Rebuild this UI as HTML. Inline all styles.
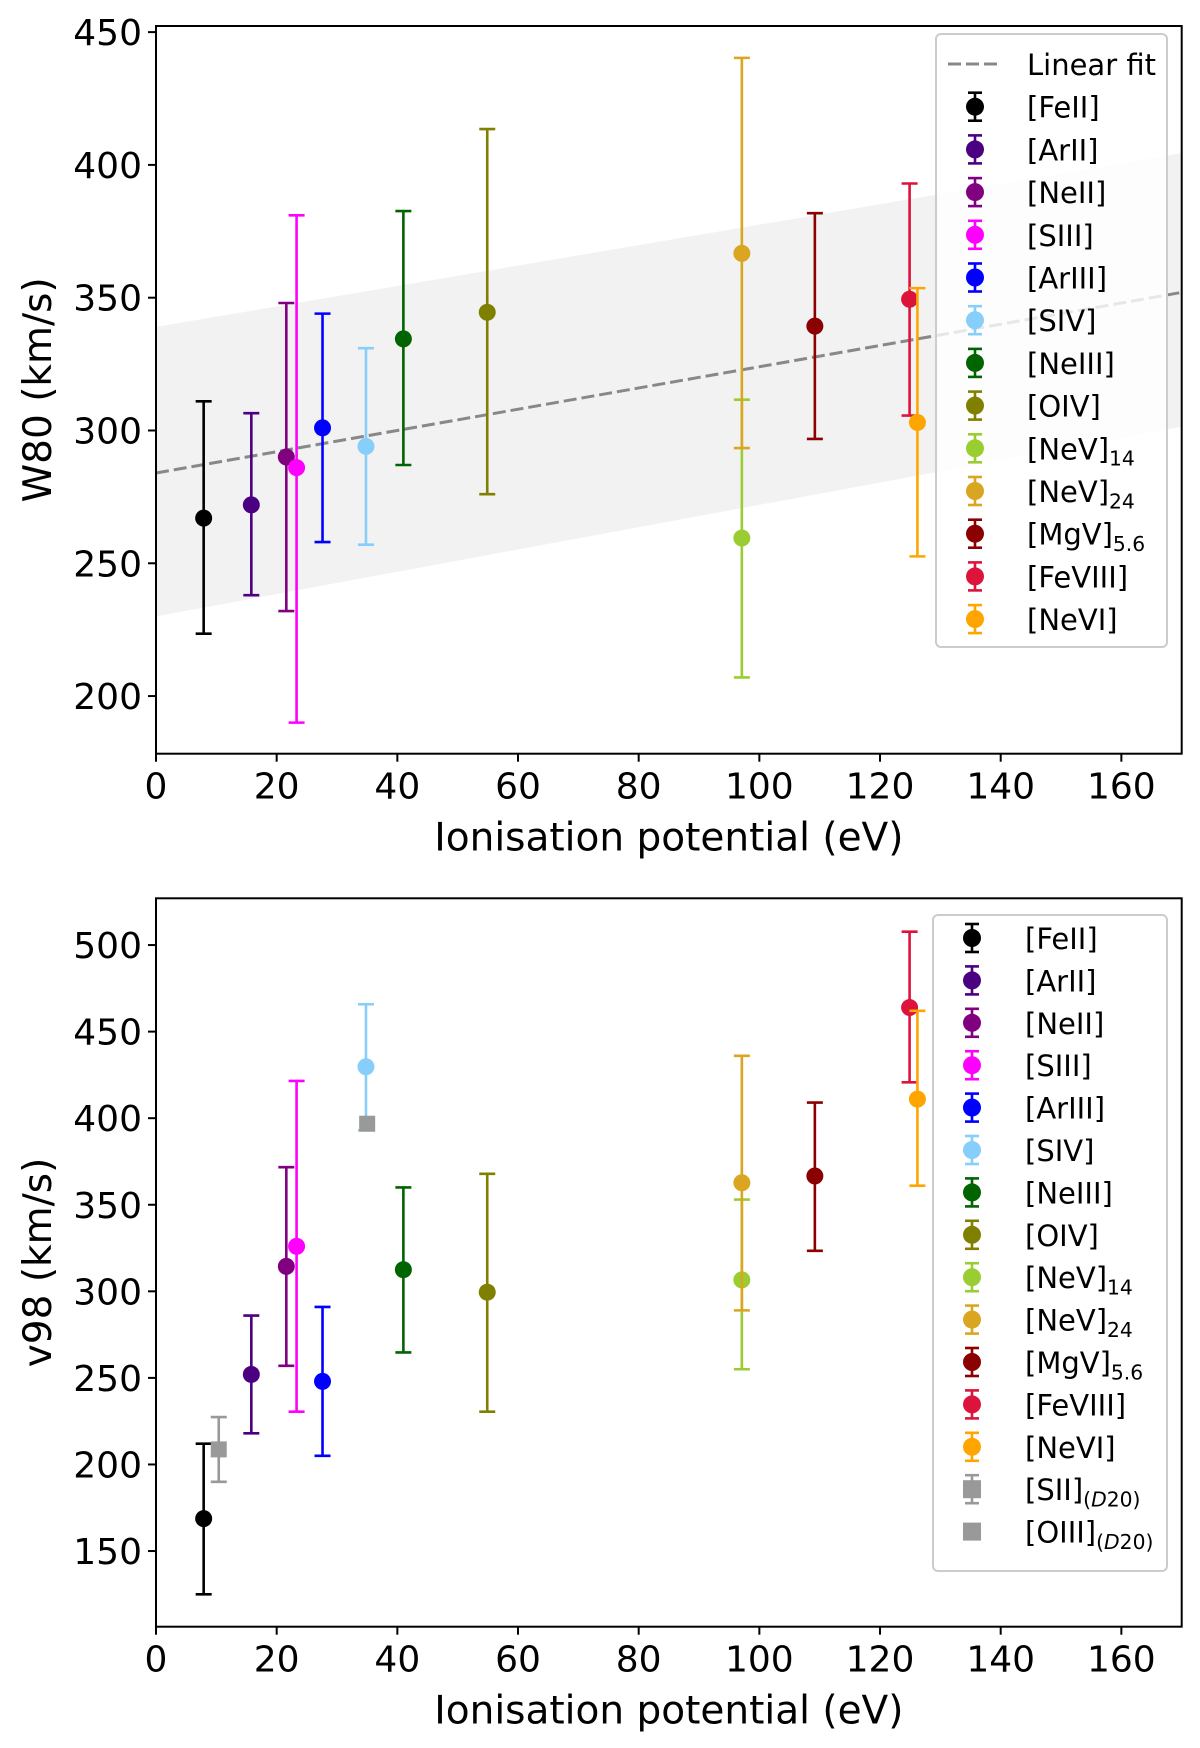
<!DOCTYPE html>
<html><head><meta charset="utf-8"><style>
html,body{margin:0;padding:0;background:#fff}
svg{display:block;font-family:"DejaVu Sans","Liberation Sans",sans-serif}
</style></head><body>
<svg id="fig" width="1200" height="1748" viewBox="0 0 1200 1748"></svg>
<script>
const lineNames=["[FeII]","[ArII]","[NeII]","[SIII]","[ArIII]","[SIV]","[NeIII]","[OIV]","[NeV]14","[NeV]24","[MgV]5.6","[FeVIII]","[NeVI]"];
const lineColors=["#000000","#4b0082","#800080","#ff00ff","#0000ff","#87cefa","#006400","#808000","#9acd32","#daa520","#8b0000","#dc143c","#ffa500"];
const ipValues=[7.9,15.8,21.6,23.3,27.6,34.8,41.0,54.9,97.1,97.1,109.2,124.9,126.2];
const w80Values=[267,272,290,286,301,294,334.5,344.5,259.5,366.7,339.3,349.4,303];
const w80Upper=[311,306.5,348,381,344,331,382.6,413.5,311.6,440.3,381.8,393,353.6];
const w80Lower=[223.5,238,232,190,258,257,287,276,207,293.4,296.8,305.6,252.6];
const fitIntercept=284, fitSlope=0.40;
const bandLowIntercept=230, bandLowSlope=0.42;
const bandHighIntercept=339, bandHighSlope=0.385;
const v98Values=[168.7,252,314.4,326,248,429.7,312.5,299.5,306.6,362.7,366.6,463.9,411];
const v98Upper=[212,286,371.7,421.5,291,465.8,360,367.9,353,436,409,507.7,462];
const v98Lower=[125,218,257,230.5,205,393,264.7,230.5,255,289,323.4,420.7,361];
const d20Names=["[SII]","[OIII]"];
const d20Ip=[10.4,35.0];
const d20Values=[208.7,396.8];
const d20Upper=[227.4,null];
const d20Lower=[190,null];
const xTicks=[0,20,40,60,80,100,120,140,160];
const yTicksTop=[200,250,300,350,400,450];
const yTicksBottom=[150,200,250,300,350,400,450,500];

const NS="http://www.w3.org/2000/svg";
const svg=document.getElementById('fig');
function mk(tag,attrs,parent){const e=document.createElementNS(NS,tag);for(const k in attrs)e.setAttribute(k,attrs[k]);(parent||svg).appendChild(e);return e;}

function makeAxes(L,R,T,B,xmin,xmax,ymin,ymax){
  return {L,R,T,B,x:v=>L+(v-xmin)/(xmax-xmin)*(R-L),y:v=>B-(v-ymin)/(ymax-ymin)*(B-T)};
}
const axTop=makeAxes(156,1181.7,26,753.7,0,170,178.3,452.3);
const axBot=makeAxes(156,1181.7,898.3,1626.7,0,170,106.3,527);

function label(g,x,y,txt,sub,size,anchor){
  const t=mk('text',{x:x,y:y,'font-size':size,'text-anchor':anchor||'start',fill:'#000'},g);
  t.appendChild(document.createTextNode(txt));
  if(sub){const s=mk('tspan',{'font-size':size*0.7,dy:size*0.22},t);
    if(sub.italic){s.appendChild(document.createTextNode('('));
      const it=mk('tspan',{'font-style':'italic'},s);it.appendChild(document.createTextNode('D'));
      s.appendChild(document.createTextNode('20)'));}
    else s.appendChild(document.createTextNode(sub.text));}
  return t;
}
function splitName(n){const m=n.match(/^(\[[^\]]+\])(.*)$/);return {main:m[1],sub:m[2]};}

function drawFrame(ax,ticksY,ylab,name){
  const g=mk('g',{});
  
  
  ticksY.forEach(v=>{const yy=ax.y(v);
    const tk=mk('line',{x1:ax.L-8,x2:ax.L,y1:yy,y2:yy,stroke:'#000','stroke-width':2},g);
    
    
    const t=mk('text',{x:ax.L-14,y:yy+13,'font-size':36,'text-anchor':'end'},g);t.textContent=v;
    
    });
  xTicks.forEach(v=>{const xx=ax.x(v);
    const tk=mk('line',{x1:xx,x2:xx,y1:ax.B,y2:ax.B+8,stroke:'#000','stroke-width':2},g);
    
    
    const t=mk('text',{x:xx,y:ax.B+45,'font-size':36,'text-anchor':'middle'},g);t.textContent=v;
    
    });
  const xl=mk('text',{x:(ax.L+ax.R)/2,y:ax.B+97,'font-size':39,'text-anchor':'middle'},g);
  xl.textContent='Ionisation potential (eV)';
  
  
  const cy=(ax.T+ax.B)/2;
  const yl=mk('text',{x:0,y:0,'font-size':39,'text-anchor':'middle',transform:`translate(51,${cy}) rotate(-90)`},g);
  yl.textContent=ylab;
  
  
}
function drawBorder(ax){
  const r=mk('rect',{x:ax.L,y:ax.T,width:ax.R-ax.L,height:ax.B-ax.T,fill:'none',stroke:'#000','stroke-width':2});
  
  
}
function errbar(g,ax,xv,yv,hi,lo,color,marker){
  if(hi!=null){
    const x=ax.x(xv),y1=ax.y(hi),y2=ax.y(lo);
    mk('line',{x1:x,x2:x,y1:y1,y2:y2,stroke:color,'stroke-width':2.6},g);
    mk('line',{x1:x-8,x2:x+8,y1:y1,y2:y1,stroke:color,'stroke-width':2.6},g);
    mk('line',{x1:x-8,x2:x+8,y1:y2,y2:y2,stroke:color,'stroke-width':2.6},g);
  }
  if(marker==='s')mk('rect',{x:ax.x(xv)-8,y:ax.y(yv)-8,width:16,height:16,fill:color},g);
  else mk('circle',{cx:ax.x(xv),cy:ax.y(yv),r:8.5,fill:color},g);
}
function legendMarker(g,x,y,color,marker,bars){
  if(bars){mk('line',{x1:x,x2:x,y1:y-14,y2:y+14,stroke:color,'stroke-width':2.6},g);
    mk('line',{x1:x-7,x2:x+7,y1:y-14,y2:y-14,stroke:color,'stroke-width':2.6},g);
    mk('line',{x1:x-7,x2:x+7,y1:y+14,y2:y+14,stroke:color,'stroke-width':2.6},g);}
  if(marker==='s')mk('rect',{x:x-9,y:y-9,width:18,height:18,fill:color},g);
  else mk('circle',{cx:x,cy:y,r:9,fill:color},g);
}

/* ---------- top panel ---------- */
drawFrame(axTop,yTicksTop,'W80 (km/s)','w80');
const band=mk('polygon',{points:[[0,bandLowIntercept],[170,bandLowIntercept+170*bandLowSlope],[170,bandHighIntercept+170*bandHighSlope],[0,bandHighIntercept]].map(p=>axTop.x(p[0])+','+axTop.y(p[1])).join(' '),fill:'#d3d3d3','fill-opacity':0.3});


const fit=mk('line',{x1:axTop.x(0),y1:axTop.y(fitIntercept),x2:axTop.x(170),y2:axTop.y(fitIntercept+170*fitSlope),stroke:'#888','stroke-width':3,'stroke-dasharray':'13,5'});


lineNames.forEach((n,i)=>{
  const g=mk('g',{});
  
  
  errbar(g,axTop,ipValues[i],w80Values[i],w80Upper[i],w80Lower[i],lineColors[i]);
});
drawBorder(axTop);
{
  const lg=mk('g',{});
  
  
  mk('rect',{x:936,y:34,width:231,height:613,rx:5,fill:'#fff','fill-opacity':0.8,stroke:'#ccc','stroke-width':2},lg);
  const y0=64, dy=42.7;
  mk('line',{x1:948,x2:1002,y1:y0,y2:y0,stroke:'#888','stroke-width':3,'stroke-dasharray':'13,5'},lg);
  const t=label(lg,1027,y0+11,'Linear fit',null,29);
  
  
  lineNames.forEach((n,i)=>{const yy=y0+dy*(i+1);const s=splitName(n);
    legendMarker(lg,975,yy,lineColors[i],'o',true);
    const e=label(lg,1027,yy+11,s.main,s.sub?{text:s.sub}:null,29);
    
    });
}

/* ---------- bottom panel ---------- */
drawFrame(axBot,yTicksBottom,'v98 (km/s)','v98');
lineNames.forEach((n,i)=>{
  const g=mk('g',{});
  
  
  errbar(g,axBot,ipValues[i],v98Values[i],v98Upper[i],v98Lower[i],lineColors[i]);
});
d20Names.forEach((n,i)=>{
  const g=mk('g',{});
  
  
  errbar(g,axBot,d20Ip[i],d20Values[i],d20Upper[i],d20Lower[i],'#999','s');
});
drawBorder(axBot);
{
  const lg=mk('g',{});
  
  
  mk('rect',{x:933,y:915,width:234,height:656,rx:5,fill:'#fff','fill-opacity':0.8,stroke:'#ccc','stroke-width':2},lg);
  const y0=938, dy=42.4;
  lineNames.forEach((n,i)=>{const yy=y0+dy*i;const s=splitName(n);
    legendMarker(lg,972,yy,lineColors[i],'o',true);
    const e=label(lg,1025,yy+11,s.main,s.sub?{text:s.sub}:null,29);
    
    });
  d20Names.forEach((n,i)=>{const yy=y0+dy*(13+i);
    legendMarker(lg,972,yy,'#999','s',i===0);
    const e=label(lg,1025,yy+11,n,{text:'(D20)',italic:true},29);
    
    });
}
</script>
</body></html>
